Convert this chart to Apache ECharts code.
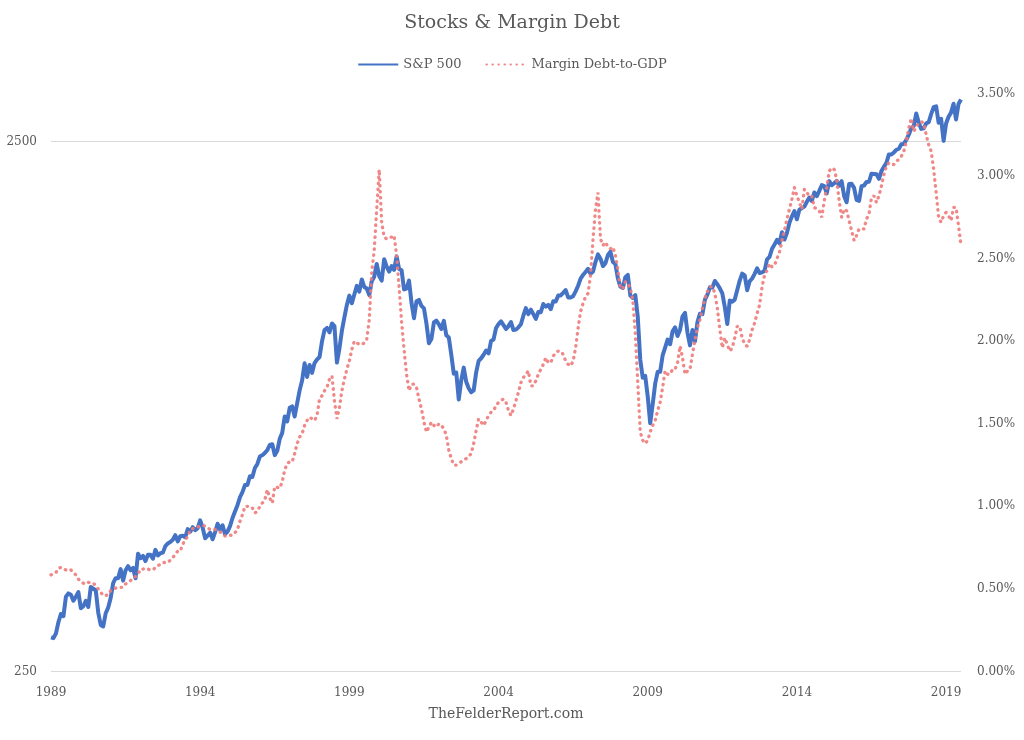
<!DOCTYPE html>
<html>
<head>
<meta charset="utf-8">
<script src="https://cdn.jsdelivr.net/npm/echarts@6/dist/echarts.min.js"></script>
<style>
html,body{margin:0;padding:0;background:#fff;}
#chart{width:1024px;height:740px;}
</style>
</head>
<body>
<div id="chart"></div>
<script>
// ---- Data (monthly, Jan 1989 – Jul 2019) ----
const startYear = 1989;
const monthCount = 367;
const yearTicks = ['1989','1994','1999','2004','2009','2014','2019'];
const leftTickValues = [250, 2500];

const sp500 = [
  290,289,295,310,321,318,346,351,349,340,346,353,
  329,332,340,331,361,358,356,323,306,304,322,330,
  344,367,375,375,390,371,388,395,388,392,375,417,
  409,413,404,415,415,408,424,414,418,419,431,436,
  439,443,452,440,450,451,448,464,459,468,462,466,
  482,467,446,451,457,444,458,475,463,472,454,459,
  470,487,501,515,533,545,562,562,584,582,605,616,
  636,640,646,654,669,671,640,652,687,705,757,741,
  786,791,757,801,848,885,954,899,947,915,955,970,
  980,1049,1102,1112,1091,1134,1121,957,1017,1099,1164,1229,
  1280,1238,1286,1335,1302,1373,1329,1320,1283,1363,1389,1469,
  1394,1366,1499,1452,1421,1455,1431,1518,1437,1429,1315,1320,
  1366,1240,1160,1249,1256,1224,1211,1134,1041,1060,1139,1148,
  1130,1107,1147,1077,1067,990,912,916,815,886,936,880,
  856,841,848,917,964,975,990,1008,996,1051,1058,1112,
  1131,1145,1126,1107,1121,1141,1102,1104,1115,1130,1174,1212,
  1181,1204,1181,1157,1192,1191,1234,1220,1229,1207,1249,1248,
  1280,1281,1295,1311,1270,1270,1277,1304,1336,1378,1401,1418,
  1438,1407,1421,1482,1531,1503,1455,1474,1527,1549,1481,1468,
  1379,1331,1323,1386,1400,1280,1267,1283,1166,969,896,903,
  826,735,798,873,919,919,987,1021,1057,1036,1096,1115,
  1074,1104,1169,1187,1089,1031,1102,1049,1141,1183,1181,1258,
  1286,1327,1326,1364,1345,1321,1292,1219,1131,1253,1247,1258,
  1312,1366,1408,1398,1310,1362,1379,1407,1441,1412,1416,1426,
  1498,1515,1569,1598,1631,1606,1686,1633,1682,1757,1806,1848,
  1783,1859,1872,1884,1924,1960,1931,2003,1972,2018,2068,2059,
  1995,2105,2068,2086,2107,2063,2104,1972,1920,2079,2080,2044,
  1940,1932,2060,2065,2097,2099,2174,2171,2168,2126,2199,2239,
  2279,2364,2363,2384,2412,2423,2470,2472,2519,2575,2648,2674,
  2824,2714,2641,2648,2705,2718,2816,2902,2914,2712,2760,2507,
  2704,2784,2834,2946,2752,2942,3000
];

const marginDebtToGDP = [
  0.585,0.595,0.60,0.625,0.63,0.62,0.615,0.61,0.615,0.60,0.585,0.56,
  0.545,0.535,0.53,0.54,0.535,0.535,0.52,0.50,0.48,0.46,0.46,0.465,
  0.49,0.50,0.505,0.51,0.51,0.51,0.53,0.54,0.55,0.565,0.575,0.59,
  0.62,0.62,0.625,0.62,0.615,0.615,0.63,0.64,0.65,0.66,0.66,0.66,
  0.675,0.69,0.71,0.73,0.73,0.77,0.80,0.815,0.86,0.865,0.87,0.875,
  0.88,0.885,0.88,0.87,0.86,0.86,0.86,0.855,0.845,0.835,0.82,0.82,
  0.825,0.825,0.84,0.86,0.91,0.95,1.00,1.00,1.00,0.99,0.96,0.97,
  1.00,1.02,1.04,1.10,1.05,1.02,1.12,1.115,1.11,1.15,1.22,1.26,
  1.27,1.27,1.32,1.38,1.42,1.44,1.49,1.52,1.54,1.53,1.52,1.55,
  1.65,1.67,1.70,1.72,1.77,1.79,1.64,1.53,1.60,1.70,1.77,1.83,
  1.88,1.95,2.00,1.99,1.98,1.98,1.99,2.01,2.13,2.42,2.55,2.80,
  3.04,2.72,2.63,2.62,2.63,2.63,2.64,2.52,2.33,2.12,1.95,1.80,
  1.70,1.74,1.74,1.72,1.65,1.59,1.51,1.45,1.48,1.51,1.49,1.48,
  1.50,1.49,1.47,1.43,1.34,1.29,1.25,1.25,1.26,1.27,1.28,1.29,
  1.30,1.32,1.38,1.46,1.53,1.51,1.49,1.52,1.55,1.57,1.58,1.61,
  1.63,1.64,1.65,1.63,1.58,1.55,1.59,1.64,1.69,1.75,1.78,1.80,
  1.82,1.73,1.73,1.76,1.80,1.83,1.86,1.90,1.87,1.87,1.91,1.93,
  1.94,1.94,1.92,1.88,1.86,1.85,1.88,1.96,2.08,2.18,2.23,2.27,
  2.29,2.40,2.62,2.80,2.90,2.62,2.58,2.60,2.57,2.56,2.57,2.52,
  2.43,2.32,2.32,2.36,2.35,2.32,2.25,2.05,1.75,1.45,1.40,1.38,
  1.40,1.45,1.49,1.52,1.58,1.63,1.72,1.82,1.80,1.80,1.83,1.83,
  1.87,1.97,1.90,1.80,1.82,1.83,1.92,2.01,2.08,2.13,2.20,2.26,
  2.30,2.33,2.33,2.29,2.20,2.07,1.96,2.02,1.98,1.94,1.96,2.02,
  2.09,2.09,2.02,1.98,1.97,2.01,2.07,2.11,2.17,2.22,2.33,2.40,
  2.43,2.47,2.45,2.46,2.50,2.54,2.61,2.67,2.74,2.80,2.86,2.93,
  2.88,2.84,2.80,2.92,2.90,2.88,2.88,2.81,2.80,2.79,2.75,2.85,
  2.93,3.03,3.05,3.04,2.98,2.85,2.75,2.80,2.79,2.73,2.67,2.61,
  2.64,2.68,2.68,2.68,2.74,2.77,2.87,2.88,2.84,2.88,2.94,3.01,
  3.06,3.08,3.07,3.07,3.09,3.10,3.12,3.15,3.21,3.29,3.35,3.27,
  3.30,3.32,3.33,3.32,3.25,3.19,3.15,3.04,2.90,2.75,2.72,2.76,
  2.78,2.76,2.73,2.81,2.81,2.70,2.58
];

const months = [];
for (let i = 0; i < monthCount; i++) {
  const y = startYear + Math.floor(i / 12);
  const m = (i % 12) + 1;
  months.push(y + '-' + (m < 10 ? '0' + m : m));
}

const FONT = '"DejaVu Serif", "Liberation Serif", serif';
const TEXT = '#595959';

const chart = echarts.init(document.getElementById('chart'), null, {renderer: 'canvas'});
chart.setOption({
  animation: false,
  backgroundColor: '#ffffff',
  textStyle: {fontFamily: FONT, color: TEXT},
  title: {
    text: 'Stocks & Margin Debt',
    left: 'center',
    top: 9,
    textStyle: {fontFamily: FONT, fontSize: 19, fontWeight: 'normal', color: TEXT}
  },
  legend: {
    top: 53,
    left: 'center',
    itemWidth: 40,
    itemHeight: 10,
    itemGap: 24,
    itemStyle: {opacity: 0},
    textStyle: {fontFamily: FONT, fontSize: 13, color: TEXT},
    data: ['S&P 500', 'Margin Debt-to-GDP']
  },
  grid: {left: 51, right: 63, top: 93.5, bottom: 68.5, containLabel: false},
  xAxis: {
    type: 'category',
    data: months,
    boundaryGap: false,
    axisLine: {show: false},
    axisTick: {show: false},
    splitLine: {show: false},
    axisLabel: {
      interval: function (idx, val) { return yearTicks.indexOf(val.slice(0, 4)) >= 0 && val.slice(5) === '01'; },
      formatter: function (val) { return val.slice(0, 4); },
      color: TEXT, fontFamily: FONT, fontSize: 12, margin: 15
    }
  },
  yAxis: [
    {
      type: 'log',
      logBase: 10,
      min: 250,
      max: 3080,
      position: 'left',
      axisLine: {show: false},
      axisTick: {show: false, customValues: leftTickValues},
      axisLabel: {
        customValues: leftTickValues,
        formatter: function (v) { return String(Math.round(v)); },
        color: TEXT, fontFamily: FONT, fontSize: 12, margin: 14
      },
      splitLine: {show: true, lineStyle: {color: '#d9d9d9', width: 1}}
    },
    {
      type: 'value',
      min: 0,
      max: 3.5,
      interval: 0.5,
      position: 'right',
      axisLine: {show: false},
      axisTick: {show: false},
      splitLine: {show: false},
      axisLabel: {
        formatter: function (v) { return v.toFixed(2) + '%'; },
        color: TEXT, fontFamily: FONT, fontSize: 12, margin: 16
      }
    }
  ],
  graphic: [{
    type: 'text',
    x: 506,
    y: 714,
    style: {text: 'TheFelderReport.com', fill: TEXT, font: '14px ' + FONT, textAlign: 'center', textVerticalAlign: 'middle'}
  }],
  series: [
    {
      name: 'S&P 500',
      type: 'line',
      yAxisIndex: 0,
      data: sp500,
      showSymbol: false,
      symbol: 'none',
      color: '#4472C4',
      lineStyle: {color: '#4472C4', width: 4, join: 'round'},
      z: 2
    },
    {
      name: 'Margin Debt-to-GDP',
      type: 'line',
      yAxisIndex: 1,
      data: marginDebtToGDP,
      showSymbol: false,
      symbol: 'none',
      color: '#EE7B7B',
      lineStyle: {color: '#EE7B7B', width: 3.3, type: [0.5, 5.5], cap: 'round', opacity: 0.9},
      z: 3
    }
  ]
});
</script>
</body>
</html>
